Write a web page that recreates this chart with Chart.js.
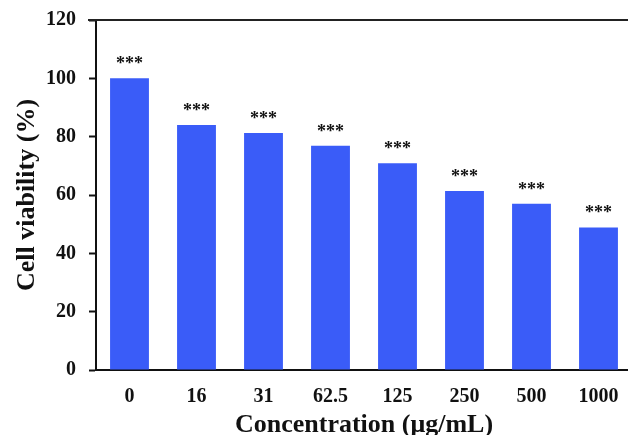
<!DOCTYPE html>
<html>
<head>
<meta charset="utf-8">
<script src="https://cdn.jsdelivr.net/npm/chart.js@4"></script>
<style>
  html, body { margin: 0; padding: 0; background: #fff; overflow: hidden; }
  #wrap { width: 636px; height: 435px; }
</style>
</head>
<body>
<div id="wrap"><canvas id="canvas"></canvas></div>
<script>
// data
var concentrations = ["0", "16", "31", "62.5", "125", "250", "500", "1000"];
var viability = [100, 84.0, 81.3, 76.9, 70.9, 61.4, 57.0, 48.9];
var significance = ["***", "***", "***", "***", "***", "***", "***", "***"];
var yTicks = [0, 20, 40, 60, 80, 100, 120];

var serif = "'Liberation Serif', 'Times New Roman', serif";
var ink = '#111';

// stars over each bar
var starsPlugin = {
    id: 'stars',
    afterDatasetsDraw: function(chart) {
        var ctx = chart.ctx;
        var meta = chart.getDatasetMeta(0);
        ctx.save();
        ctx.fillStyle = ink;
        ctx.font = 'bold 18px ' + serif;
        ctx.textAlign = 'center';
        ctx.textBaseline = 'alphabetic';
        meta.data.forEach(function(bar, i) {
            ctx.fillText(significance[i], bar.x, bar.y - 9);
        });
        ctx.restore();
    }
};

// top frame line
var frameTop = {
    id: 'frameTop',
    afterDraw: function(chart) {
        var a = chart.chartArea;
        var ctx = chart.ctx;
        ctx.save();
        ctx.strokeStyle = '#222';
        ctx.lineWidth = 2;
        ctx.beginPath();
        ctx.moveTo(a.left - 8, a.top);
        ctx.lineTo(chart.width, a.top);
        ctx.stroke();
        ctx.restore();
    }
};

window.onload = function() {
    var ctx = document.getElementById("canvas").getContext("2d");
    window.myBar = new Chart(ctx, {
        type: 'bar',
        data: {
            labels: concentrations,
            datasets: [{
                data: viability,
                backgroundColor: '#3a5cf8',
                borderWidth: 0,
                barPercentage: 0.58,
                categoryPercentage: 1.0
            }]
        },
        options: {
            responsive: true,
            maintainAspectRatio: false,
            animation: false,
            layout: {
                padding: { top: 20, right: 4, left: 0, bottom: 0 }
            },
            plugins: {
                legend: { display: false },
                tooltip: { enabled: false }
            },
            scales: {
                x: {
                    afterFit: function(scale) { scale.height = 65; },
                    grid: { display: true, drawOnChartArea: false, drawTicks: false },
                    border: { display: true, color: '#111', width: 2 },
                    ticks: {
                        color: ink,
                        padding: 15,
                        font: { family: serif, size: 20, weight: 'bold' }
                    },
                    title: {
                        display: true,
                        text: 'Concentration (μg/mL)',
                        color: ink,
                        font: { family: serif, size: 26, weight: 'bold', lineHeight: 0.75 },
                        padding: { top: 0, bottom: 0 }
                    }
                },
                y: {
                    min: 0,
                    max: 120,
                    afterFit: function(scale) {
                        scale.width = 96;
                        scale.paddingTop = 0;
                        scale.paddingBottom = 0;
                    },
                    afterBuildTicks: function(scale) {
                        scale.ticks = yTicks.map(function(v) { return { value: v }; });
                    },
                    grid: {
                        drawOnChartArea: false,
                        drawTicks: true,
                        tickLength: 7,
                        tickWidth: 2,
                        tickColor: '#111'
                    },
                    border: { display: true, color: '#111', width: 2 },
                    ticks: {
                        color: ink,
                        padding: 13,
                        font: { family: serif, size: 20, weight: 'bold' }
                    },
                    title: {
                        display: true,
                        text: 'Cell viability (%)',
                        color: ink,
                        font: { family: serif, size: 26, weight: 'bold', lineHeight: 1.2 },
                        padding: { top: 12, bottom: 0 }
                    }
                }
            }
        },
        plugins: [starsPlugin, frameTop]
    });
};
</script>
</body>
</html>
